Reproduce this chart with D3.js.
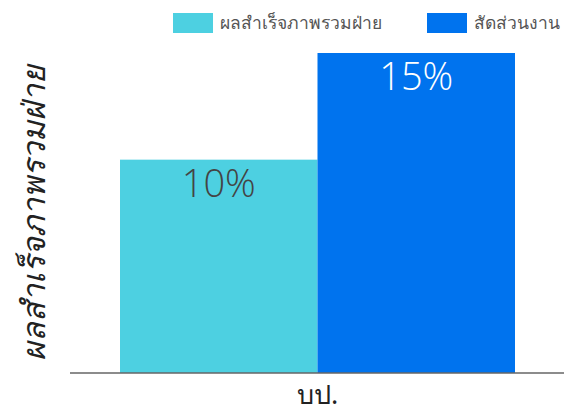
<!DOCTYPE html>
<html>
<head>
  <meta charset="utf-8">
  <title>ผลสำเร็จภาพรวมฝ่าย</title>
  <style type="text/css">
    body { margin: 0; background: #fff; }
    svg text { font-family: "Noto Sans", "DejaVu Sans", sans-serif; }
    .legend text { font-size: 17.5px; fill: #555; }
    .bar-label { font-family: "Open Sans", "Noto Sans", sans-serif; font-weight: 300; font-size: 38px; }
    .cat-label { font-size: 27px; fill: #222; }
    .y-title { font-size: 32px; font-style: italic; fill: #222; }
  </style>
</head>
<body>
  <div id="chart"></div>
  <script type="text/javascript" src="https://cdnjs.cloudflare.com/ajax/libs/d3/7.8.5/d3.min.js"></script>
  <script type="text/javascript">
  var categories = ['บป.'];
  var seriesNames = ['ผลสำเร็จภาพรวมฝ่าย', 'สัดส่วนงาน'];
  var seriesValues = [10, 15];
  var valueLabels = ['10%', '15%'];
  var seriesColors = ['#4dd0e1', '#0073ee'];
  var labelColors = ['#444', '#fff'];

  var cfg = {
    w: 564,
    h: 415,
    left: 70,
    top: 53,
    bottom: 373
  };

  var svg = d3.select('#chart').append('svg')
    .attr('width', cfg.w)
    .attr('height', cfg.h);

  var x0 = d3.scaleBand()
    .domain(categories)
    .range([120, 515]);

  var x1 = d3.scaleBand()
    .domain(seriesNames)
    .range([0, x0.bandwidth()]);

  var y = d3.scaleLinear()
    .domain([0, d3.max(seriesValues)])
    .range([cfg.bottom, cfg.top]);

  var rows = seriesNames.map(function(s, i) {
    return { cat: categories[0], name: s, value: seriesValues[i], label: valueLabels[i], i: i };
  });

  var group = svg.append('g')
    .attr('transform', function() { return 'translate(' + x0(categories[0]) + ',0)' });

  group.selectAll('rect.bar')
    .data(rows)
    .enter()
    .append('rect')
    .classed('bar', true)
    .attr('x', function(d) { return x1(d.name) })
    .attr('y', function(d) { return y(d.value) })
    .attr('width', x1.bandwidth())
    .attr('height', function(d) { return y(0) - y(d.value) })
    .style('fill', function(d) { return seriesColors[d.i] });

  group.selectAll('text.bar-label')
    .data(rows)
    .enter()
    .append('text')
    .classed('bar-label', true)
    .attr('x', function(d) { return x1(d.name) + x1.bandwidth() / 2 })
    .attr('y', function(d) { return y(d.value) + 37 })
    .attr('text-anchor', 'middle')
    .style('fill', function(d) { return labelColors[d.i] })
    .text(function(d) { return d.label });

  // x axis
  var xAxis = d3.axisBottom(x0).tickSize(0).tickPadding(9);
  var ax = svg.append('g')
    .attr('transform', 'translate(0,' + cfg.bottom + ')')
    .call(xAxis);
  ax.select('.domain')
    .attr('d', 'M' + cfg.left + ',0H' + cfg.w)
    .attr('stroke', '#666')
    .attr('stroke-width', 1.5);
  ax.selectAll('.tick text')
    .classed('cat-label', true)
    .attr('font-size', null)
    .attr('font-family', null)
    .attr('dy', '0.8em')
    .attr('fill', '#222');

  // y title
  svg.append('text')
    .classed('y-title', true)
    .attr('transform', 'translate(45,' + ((cfg.top + cfg.bottom) / 2) + ') rotate(-90)')
    .attr('text-anchor', 'middle')
    .text(seriesNames[0]);

  // legend
  var legendX = [173, 427];
  var legend = svg.append('g').classed('legend', true);
  var items = legend.selectAll('g')
    .data(seriesNames)
    .enter()
    .append('g')
    .attr('transform', function(d, i) { return 'translate(' + legendX[i] + ',13)' });
  items.append('rect')
    .attr('width', 40)
    .attr('height', 20)
    .style('fill', function(d, i) { return seriesColors[i] });
  items.append('text')
    .attr('x', 47)
    .attr('y', 16)
    .text(function(d) { return d });
  </script>
</body>
</html>
